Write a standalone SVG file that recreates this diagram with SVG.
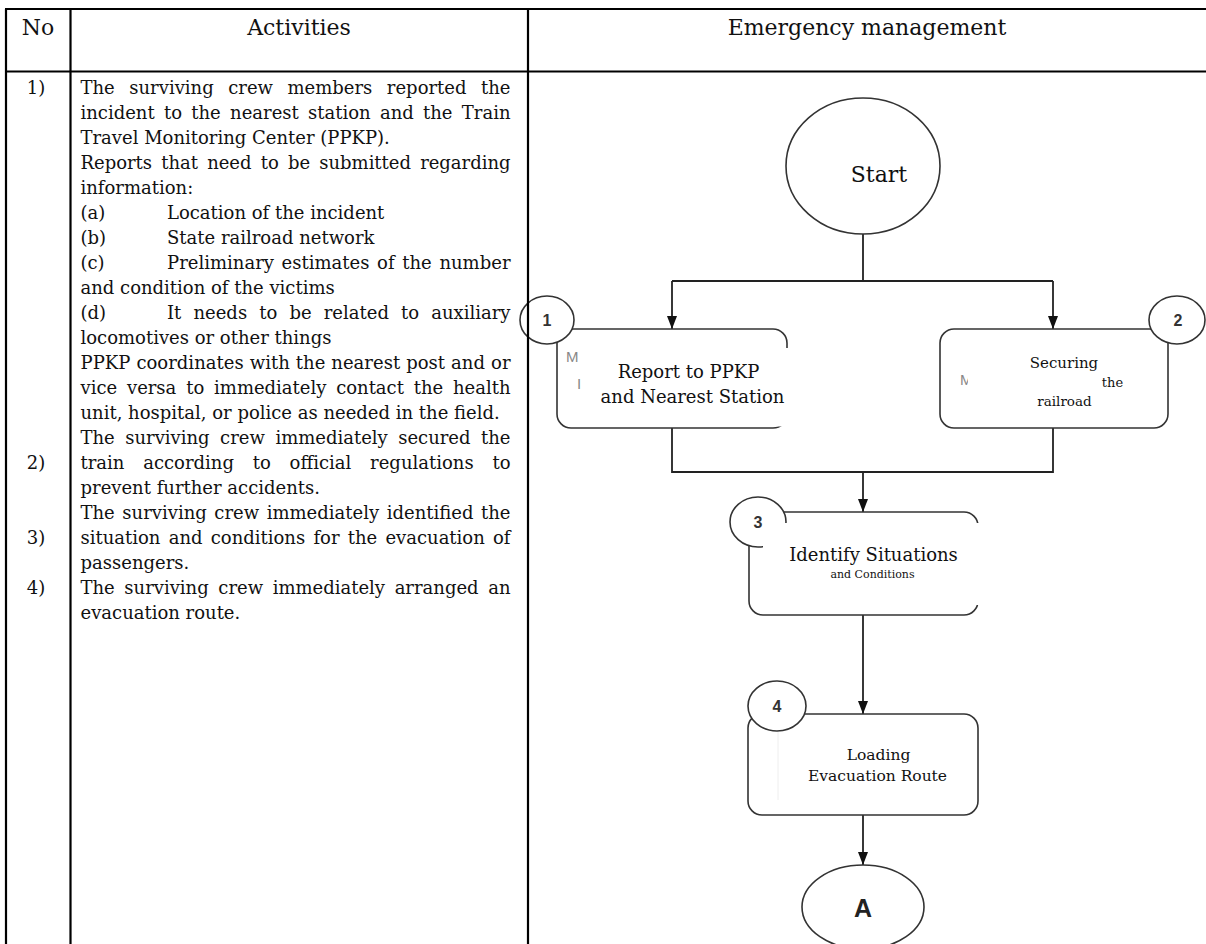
<svg xmlns="http://www.w3.org/2000/svg" width="1206" height="944" viewBox="0 0 1206 944">
<style>
.tb{stroke:#000;stroke-width:2.2;fill:none}
.hd{font-family:"DejaVu Serif",serif;font-size:22px;fill:#111;text-anchor:middle}
.bd{font-family:"DejaVu Serif",serif;font-size:18px;fill:#111}
.nm{font-family:"DejaVu Serif",serif;font-size:18px;fill:#111;text-anchor:middle}
.node{fill:#fff;stroke:#333;stroke-width:1.6}
.con{stroke:#222;stroke-width:1.8;fill:none}
.num{font-family:"Liberation Sans",Arial,sans-serif;font-weight:bold;font-size:16px;fill:#333;text-anchor:middle}
.lbl{font-family:"DejaVu Serif",serif;fill:#111;text-anchor:middle}
.ghost{font-family:"Liberation Sans",Arial,sans-serif;font-size:15px;fill:#888}
.cover{fill:#fff;stroke:none}
</style>
<defs>
<marker id="arr" viewBox="0 0 13 10" markerWidth="13" markerHeight="10" refX="13" refY="5" orient="auto" markerUnits="userSpaceOnUse">
<path d="M0,0 L13,5 L0,10 z" fill="#111"/>
</marker>
</defs>
<rect width="1206" height="944" fill="#fff"/>

<g id="connectors">
<path class="con" d="M863,234 V281 M672,281 H1053"/>
<path class="con" d="M672,281 V329" marker-end="url(#arr)"/>
<path class="con" d="M1053,281 V329" marker-end="url(#arr)"/>
<path class="con" d="M672,428 V472 H1053 V428"/>
<path class="con" d="M863,472 V512" marker-end="url(#arr)"/>
<path class="con" d="M863,615 V714" marker-end="url(#arr)"/>
<path class="con" d="M863,815 V865" marker-end="url(#arr)"/>
</g>

<g id="start">
<ellipse class="node" cx="863" cy="166" rx="77" ry="68"/>
<text class="lbl" x="879" y="182" font-size="22">Start</text>
</g>

<g id="node1">
<rect class="node" x="557" y="329" width="230" height="99" rx="14"/>
<ellipse class="node" cx="547" cy="320" rx="27" ry="24"/>
<text class="num" x="547" y="326">1</text>
<text class="ghost" x="566" y="362">M</text>
<text class="ghost" x="577" y="389">I</text>
<rect class="cover" x="582" y="348" width="220" height="78.5"/>
<text class="lbl" x="688.5" y="378" font-size="18">Report to PPKP</text>
<text class="lbl" x="692.5" y="403" font-size="18">and Nearest Station</text>
</g>

<g id="node2">
<rect class="node" x="940" y="329" width="228" height="99" rx="14"/>
<ellipse class="node" cx="1177" cy="320" rx="28" ry="24"/>
<text class="num" x="1178" y="326">2</text>
<text class="ghost" x="960" y="385">M</text>
<rect class="cover" x="968" y="345" width="190" height="75"/>
<text class="lbl" x="1064" y="368" font-size="15">Securing</text>
<text class="lbl" x="1112.5" y="387" font-size="13">the</text>
<text class="lbl" x="1064.5" y="406" font-size="13.5">railroad</text>
</g>

<g id="node3">
<rect class="node" x="749" y="512" width="229" height="103" rx="14"/>
<ellipse class="node" cx="758" cy="522" rx="28" ry="25"/>
<rect class="cover" x="763" y="523" width="220" height="82"/>
<text class="num" x="758" y="528">3</text>
<text class="lbl" x="873.5" y="561" font-size="18">Identify Situations</text>
<text class="lbl" x="872.5" y="578" font-size="11">and Conditions</text>
</g>

<g id="node4">
<rect class="node" x="748" y="714" width="230" height="101" rx="14"/>
<ellipse class="node" cx="777" cy="706" rx="29" ry="25"/>
<line x1="778" y1="732" x2="778" y2="800" stroke="#eee" stroke-width="1"/>
<text class="num" x="777" y="712">4</text>
<text class="lbl" x="878.5" y="760" font-size="15.5">Loading</text>
<text class="lbl" x="877.5" y="781" font-size="15.5">Evacuation Route</text>
</g>

<g id="endA">
<ellipse class="node" cx="863" cy="907" rx="61" ry="42"/>
<text x="863" y="917" font-family="Liberation Sans, Arial, sans-serif" font-weight="bold" font-size="25" fill="#222" text-anchor="middle">A</text>
</g>

<g id="table">
<path class="tb" d="M5,9 H1206 M5,71.5 H1206 M6,9 V944 M70.5,9 V944 M528,9 V944"/>
<text class="hd" x="38" y="35">No</text>
<text class="hd" x="299" y="35">Activities</text>
<text class="hd" x="867" y="35">Emergency management</text>
</g>

<g id="numbers">
<text class="nm" x="36" y="93.5">1)</text>
<text class="nm" x="36" y="468.5">2)</text>
<text class="nm" x="36" y="543.5">3)</text>
<text class="nm" x="36" y="593.5">4)</text>
</g>

<g id="activities">
<text class="bd" x="80.5" y="93.5" textLength="430" lengthAdjust="spacing" word-spacing="8.8">The surviving crew members reported the</text>
<text class="bd" x="80.5" y="118.5" textLength="430" lengthAdjust="spacing" word-spacing="3.6">incident to the nearest station and the Train</text>
<text class="bd" x="80.5" y="143.5">Travel Monitoring Center (PPKP).</text>
<text class="bd" x="80.5" y="168.5" textLength="430" lengthAdjust="spacing" word-spacing="3.5">Reports that need to be submitted regarding</text>
<text class="bd" x="80.5" y="193.5">information:</text>
<text class="bd" x="80.5" y="218.5">(a)</text><text class="bd" x="167" y="218.5">Location of the incident</text>
<text class="bd" x="80.5" y="243.5">(b)</text><text class="bd" x="167" y="243.5">State railroad network</text>
<text class="bd" x="80.5" y="268.5">(c)</text><text class="bd" x="167" y="268.5" textLength="343.5" lengthAdjust="spacing" word-spacing="1.9">Preliminary estimates of the number</text>
<text class="bd" x="80.5" y="293.5">and condition of the victims</text>
<text class="bd" x="80.5" y="318.5">(d)</text><text class="bd" x="167" y="318.5" textLength="343.5" lengthAdjust="spacing" word-spacing="6.4">It needs to be related to auxiliary</text>
<text class="bd" x="80.5" y="343.5">locomotives or other things</text>
<text class="bd" x="80.5" y="368.5" textLength="430" lengthAdjust="spacing" word-spacing="0.3">PPKP coordinates with the nearest post and or</text>
<text class="bd" x="80.5" y="393.5" textLength="430" lengthAdjust="spacing" word-spacing="4.2">vice versa to immediately contact the health</text>
<text class="bd" x="80.5" y="418.5">unit, hospital, or police as needed in the field.</text>
<text class="bd" x="80.5" y="443.5" textLength="430" lengthAdjust="spacing" word-spacing="4.8">The surviving crew immediately secured the</text>
<text class="bd" x="80.5" y="468.5" textLength="430" lengthAdjust="spacing" word-spacing="13">train according to official regulations to</text>
<text class="bd" x="80.5" y="493.5">prevent further accidents.</text>
<text class="bd" x="80.5" y="518.5" textLength="430" lengthAdjust="spacing" word-spacing="1.8">The surviving crew immediately identified the</text>
<text class="bd" x="80.5" y="543.5" textLength="430" lengthAdjust="spacing" word-spacing="2.5">situation and conditions for the evacuation of</text>
<text class="bd" x="80.5" y="568.5">passengers.</text>
<text class="bd" x="80.5" y="593.5" textLength="430" lengthAdjust="spacing" word-spacing="3.9">The surviving crew immediately arranged an</text>
<text class="bd" x="80.5" y="618.5">evacuation route.</text>
</g>
</svg>
